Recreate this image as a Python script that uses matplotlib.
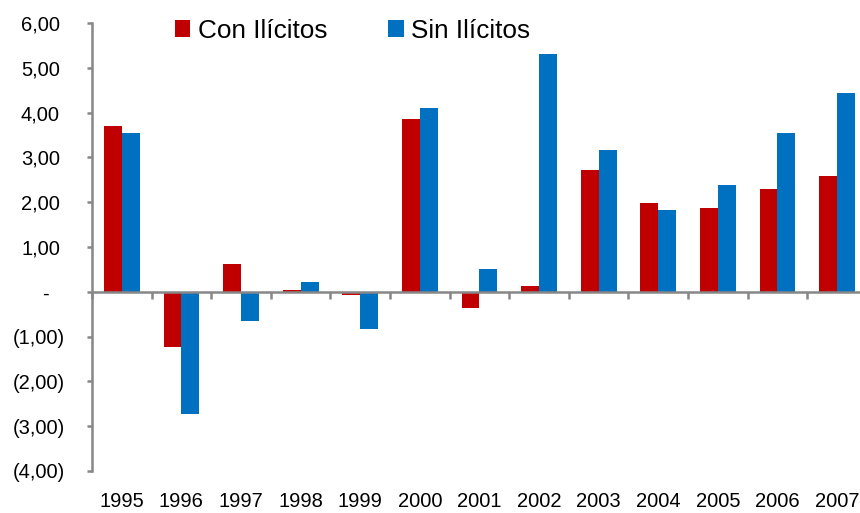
import numpy as np
import matplotlib.pyplot as plt
from matplotlib.transforms import ScaledTranslation

years = ['1995', '1996', '1997', '1998', '1999', '2000', '2001',
         '2002', '2003', '2004', '2005', '2006', '2007']
con_ilicitos = [3.70, -1.24, 0.63, 0.03, -0.07, 3.85, -0.37,
                0.13, 2.71, 1.99, 1.86, 2.29, 2.58]
sin_ilicitos = [3.55, -2.72, -0.66, 0.22, -0.84, 4.11, 0.51,
                5.30, 3.16, 1.83, 2.38, 3.54, 4.45]
yticks = [6, 5, 4, 3, 2, 1, 0, -1, -2, -3, -4]
ytick_labels = ['6,00', '5,00', '4,00', '3,00', '2,00', '1,00', '-',
                '(1,00)', '(2,00)', '(3,00)', '(4,00)']

RED = '#C00000'
BLUE = '#0070C0'
GRAY = '#878787'

plt.rcParams['font.family'] = ['Liberation Sans', 'DejaVu Sans']

fig = plt.figure(figsize=(8.6, 5.13), dpi=100)
ax = fig.add_axes([0.107, 0.082, 0.901, 0.873])

x = np.arange(len(years))
w = 0.30
ax.bar(x - w / 2, con_ilicitos, w, color=RED, label='Con Ilícitos')
ax.bar(x + w / 2, sin_ilicitos, w, color=BLUE, label='Sin Ilícitos')

ax.set_xlim(-0.5, len(years) - 0.5)
ax.set_ylim(-4, 6)

for s in ['top', 'right']:
    ax.spines[s].set_visible(False)
for s in ['left', 'bottom']:
    ax.spines[s].set_color(GRAY)
    ax.spines[s].set_linewidth(1.8)
ax.spines['bottom'].set_position(('data', 0))

# ticks between categories on the zero axis
ax.set_xticks(np.arange(len(years) + 1) - 0.5)
ax.set_xticklabels([])
ax.tick_params(axis='x', direction='out', length=5, width=1.8, color=GRAY)

ax.set_yticks(yticks)
ax.set_yticklabels(ytick_labels, fontsize=14.5)
ax.tick_params(axis='y', direction='out', length=3.5, width=1.8, color=GRAY, pad=16)
# accounting-style alignment: positives leave room for ")"
for lab in ax.get_yticklabels():
    t = lab.get_text()
    if t == '-':
        dx = -16
    elif t.startswith('('):
        dx = 0
    else:
        dx = -5
    lab.set_transform(lab.get_transform() + ScaledTranslation(dx / 100, 0, fig.dpi_scale_trans))

# year labels at the bottom of the plot area
sec = ax.secondary_xaxis('bottom')
sec.set_xticks(x)
sec.set_xticklabels(years, fontsize=14.5)
sec.tick_params(length=0, pad=15)
sec.spines['bottom'].set_visible(False)

ax.legend(loc='center left', bbox_to_anchor=(0.203, 0.94), bbox_transform=fig.transFigure,
          ncol=2, frameon=False, fontsize=18.8, handlelength=0.58, handleheight=0.58,
          handletextpad=0.3, columnspacing=2.35, borderaxespad=0, borderpad=0)

fig.savefig('out.png', dpi=100)
